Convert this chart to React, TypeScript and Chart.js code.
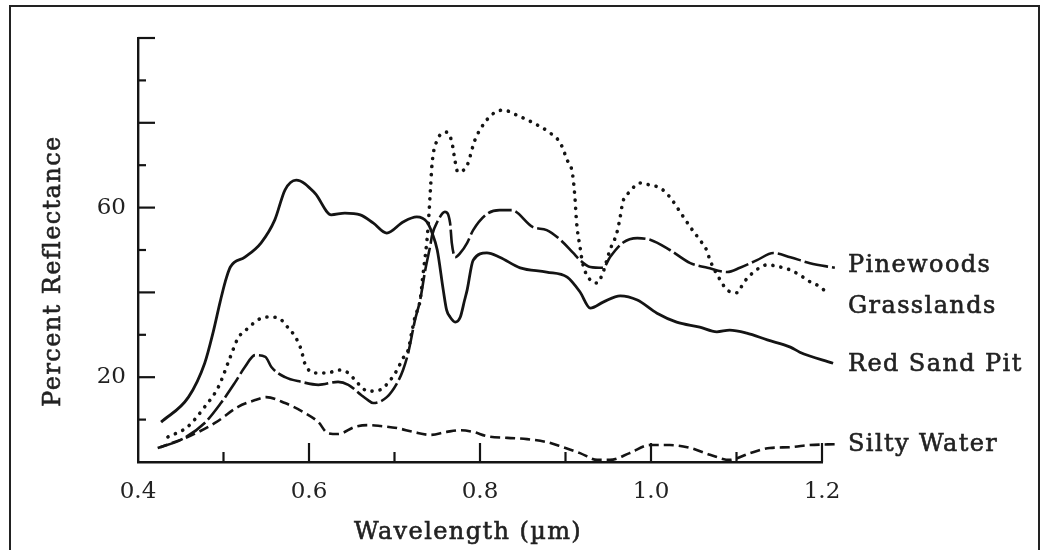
import React, { useEffect, useRef } from 'react';
import { Chart, registerables } from 'chart.js';

Chart.register(...registerables);

// ---- data (wavelength in µm, reflectance in %) ----
const seriesNames = ['Pinewoods', 'Grasslands', 'Red Sand Pit', 'Silty Water'];

const pinewoodsX = [0.426, 0.450, 0.478, 0.497, 0.513, 0.525, 0.537, 0.549, 0.556, 0.572, 0.591, 0.611, 0.634, 0.646, 0.661, 0.669, 0.675, 0.691, 0.703, 0.710, 0.716, 0.724, 0.730, 0.736, 0.742, 0.744, 0.750, 0.759, 0.765, 0.767, 0.771, 0.777, 0.785, 0.792, 0.808, 0.823, 0.837, 0.862, 0.878, 0.894, 0.909, 0.917, 0.929, 0.944, 0.952, 0.967, 0.984, 0.999, 1.022, 1.046, 1.066, 1.089, 1.104, 1.124, 1.143, 1.163, 1.186, 1.215];
const pinewoodsY = [3.5, 5.2, 9.2, 13.9, 18.6, 22.4, 25.2, 24.8, 22.4, 20.0, 18.9, 18.2, 18.9, 18.2, 15.8, 14.6, 13.9, 15.3, 18.6, 21.7, 25.7, 33.5, 38.2, 45.3, 51.2, 53.5, 56.6, 59.0, 56.4, 51.7, 48.3, 49.3, 51.7, 54.7, 58.5, 59.4, 59.4, 55.4, 54.7, 52.4, 49.3, 47.6, 46.0, 45.8, 48.3, 51.7, 52.8, 52.4, 50.0, 46.9, 45.8, 44.8, 45.8, 47.6, 49.3, 48.3, 46.9, 45.8];

const grasslandsX = [0.435, 0.458, 0.478, 0.494, 0.508, 0.517, 0.529, 0.540, 0.552, 0.564, 0.575, 0.584, 0.591, 0.595, 0.607, 0.622, 0.634, 0.646, 0.657, 0.669, 0.683, 0.695, 0.703, 0.710, 0.716, 0.720, 0.724, 0.730, 0.733, 0.739, 0.742, 0.744, 0.750, 0.761, 0.767, 0.771, 0.774, 0.785, 0.794, 0.808, 0.818, 0.827, 0.843, 0.862, 0.882, 0.894, 0.902, 0.908, 0.911, 0.913, 0.917, 0.920, 0.929, 0.937, 0.944, 0.952, 0.960, 0.964, 0.967, 0.975, 0.987, 0.999, 1.011, 1.022, 1.034, 1.046, 1.057, 1.065, 1.069, 1.081, 1.089, 1.101, 1.108, 1.119, 1.136, 1.151, 1.163, 1.174, 1.186, 1.198, 1.206, 1.219];
const grasslandsY = [5.9, 8.3, 13.0, 17.7, 24.8, 29.2, 31.6, 33.5, 34.2, 34.0, 31.8, 29.5, 26.4, 23.3, 21.0, 21.0, 21.7, 21.0, 18.6, 16.7, 17.0, 19.3, 21.7, 24.5, 26.4, 30.4, 34.2, 38.2, 43.6, 54.7, 64.2, 70.5, 75.9, 77.8, 75.5, 70.8, 68.4, 70.0, 75.9, 80.7, 82.5, 83.0, 81.8, 80.0, 77.6, 75.2, 71.2, 68.2, 62.5, 56.4, 50.7, 46.9, 42.9, 42.2, 44.8, 50.0, 54.0, 57.8, 61.3, 63.7, 65.8, 65.3, 64.6, 62.5, 59.0, 55.4, 52.4, 50.0, 47.6, 42.9, 40.6, 39.9, 42.2, 44.6, 46.5, 46.0, 45.3, 44.1, 42.5, 41.3, 39.9, 38.7];

const redSandPitX = [0.427, 0.459, 0.478, 0.488, 0.496, 0.502, 0.508, 0.525, 0.544, 0.560, 0.572, 0.585, 0.607, 0.626, 0.642, 0.660, 0.675, 0.691, 0.710, 0.726, 0.738, 0.744, 0.750, 0.757, 0.761, 0.765, 0.771, 0.777, 0.782, 0.785, 0.792, 0.808, 0.823, 0.847, 0.878, 0.902, 0.917, 0.929, 0.944, 0.964, 0.984, 1.007, 1.030, 1.057, 1.077, 1.092, 1.112, 1.136, 1.163, 1.174, 1.213];
const redSandPitY = [9.4, 15.3, 23.3, 30.7, 37.7, 42.5, 46.0, 48.3, 51.7, 57.1, 64.2, 66.5, 63.4, 58.3, 58.7, 58.3, 56.4, 54.0, 56.6, 57.8, 56.6, 54.0, 50.0, 40.6, 35.8, 34.2, 33.0, 34.2, 38.2, 40.6, 47.6, 49.3, 48.3, 45.8, 44.8, 43.6, 40.1, 36.3, 37.7, 39.2, 38.2, 35.1, 33.0, 31.8, 30.7, 31.1, 30.4, 28.8, 27.1, 25.9, 23.3];

const siltyWaterX = [0.423, 0.458, 0.490, 0.517, 0.537, 0.550, 0.572, 0.595, 0.611, 0.622, 0.634, 0.654, 0.669, 0.683, 0.703, 0.722, 0.742, 0.761, 0.777, 0.792, 0.808, 0.832, 0.855, 0.878, 0.897, 0.917, 0.937, 0.952, 0.975, 0.999, 1.022, 1.046, 1.069, 1.092, 1.116, 1.139, 1.163, 1.186, 1.218];
const siltyWaterY = [3.3, 5.9, 9.2, 13.0, 14.6, 15.3, 13.9, 11.6, 9.4, 6.8, 6.6, 8.3, 8.7, 8.5, 8.0, 7.1, 6.4, 7.1, 7.5, 7.1, 6.1, 5.7, 5.4, 4.7, 3.5, 2.1, 0.5, 0.5, 2.1, 4.0, 4.0, 3.3, 1.7, 0.5, 2.1, 3.3, 3.5, 4.0, 4.2];

const xMin = 0.4;
const xMax = 1.2;
const xStep = 0.1;
const yMin = 0;
const yMax = 100;
const yStep = 10;
const yLabelledTicks = [20, 60];

const INK = '#141414';
const TEXT = '#222222';
const FONT = '"DejaVu Serif", serif';

const toPoints = (xs: number[], ys: number[]) => xs.map((x, i) => ({ x, y: ys[i] }));

const labelOffsets = [-2, 9, 2, 1];

const drawText = (ctx: CanvasRenderingContext2D, s: string, x: number, y: number) => {
  ctx.fillText(s, x, y);
  ctx.strokeText(s, x, y);
};

const decorPlugin = {
  id: 'decor',
  afterDraw(chart: any) {
    const ctx = chart.ctx as CanvasRenderingContext2D;
    const xs = chart.scales.x;
    const ys = chart.scales.y;
    const area = chart.chartArea;
    ctx.save();
    ctx.strokeStyle = INK;
    ctx.lineWidth = 2.2;
    ctx.lineCap = 'butt';
    xs.ticks.forEach((t: any, i: number) => {
      if (i === 0) return;
      const px = xs.getPixelForValue(t.value);
      const len = i % 2 === 0 ? 19 : 10;
      ctx.beginPath();
      ctx.moveTo(px, area.bottom);
      ctx.lineTo(px, area.bottom - len);
      ctx.stroke();
    });
    ys.ticks.forEach((t: any, i: number) => {
      if (i === 0) return;
      const py = ys.getPixelForValue(t.value);
      const len = Math.round(t.value) % 20 === 0 ? 17 : 8;
      ctx.beginPath();
      ctx.moveTo(area.left, py);
      ctx.lineTo(area.left + len, py);
      ctx.stroke();
    });

    ctx.fillStyle = TEXT;
    ctx.strokeStyle = TEXT;
    ctx.lineWidth = 0.6;
    ctx.font = `24px ${FONT}`;
    (ctx as any).letterSpacing = '1.4px';
    ctx.textBaseline = 'middle';
    ctx.textAlign = 'center';
    drawText(ctx, 'Wavelength (µm)', (area.left + area.right) / 2 - 12, area.bottom + 71);
    ctx.save();
    ctx.translate(area.left - 84, (area.top + area.bottom) / 2 + 21);
    ctx.rotate(-Math.PI / 2);
    drawText(ctx, 'Percent Reflectance', 0, 0);
    ctx.restore();

    ctx.textAlign = 'left';
    chart.data.datasets.forEach((ds: any, i: number) => {
      const meta = chart.getDatasetMeta(i);
      const last = meta.data[meta.data.length - 1];
      drawText(ctx, ds.label, area.right + 26, last.y + labelOffsets[i]);
    });
    ctx.restore();
  },
};

export default function App() {
  const ref = useRef<HTMLCanvasElement | null>(null);

  useEffect(() => {
    if (!ref.current) return;
    const common = {
      borderColor: INK,
      pointRadius: 0,
      pointHoverRadius: 0,
      fill: false,
      cubicInterpolationMode: 'monotone' as const,
      clip: false as any,
    };
    const chart = new Chart(ref.current, {
      type: 'line',
      data: {
        datasets: [
          { ...common, label: seriesNames[0], data: toPoints(pinewoodsX, pinewoodsY), borderWidth: 2.6, borderDash: [24, 4] },
          { ...common, label: seriesNames[1], data: toPoints(grasslandsX, grasslandsY), borderWidth: 3.6, borderDash: [0.1, 8], borderCapStyle: 'round' },
          { ...common, label: seriesNames[2], data: toPoints(redSandPitX, redSandPitY), borderWidth: 2.8 },
          { ...common, label: seriesNames[3], data: toPoints(siltyWaterX, siltyWaterY), borderWidth: 2.6, borderDash: [10, 5] },
        ],
      },
      options: {
        responsive: false,
        animation: false,
        events: [],
        layout: { padding: { left: 0, top: 38, right: 222, bottom: 0 } },
        plugins: { legend: { display: false }, tooltip: { enabled: false } },
        scales: {
          x: {
            type: 'linear',
            min: xMin,
            max: xMax,
            grid: { display: true, drawOnChartArea: false, drawTicks: false },
            border: { display: true, color: INK, width: 2.4 },
            ticks: {
              stepSize: xStep,
              padding: 16,
              color: TEXT,
              font: { family: FONT, size: 23 },
              maxRotation: 0,
              autoSkip: false,
              callback: (v: any, i: number) => (i % 2 === 0 ? Number(v).toFixed(1) : ''),
            },
            afterFit: (s: any) => { s.height = 88; },
          },
          y: {
            type: 'linear',
            min: yMin,
            max: yMax,
            grid: { display: true, drawOnChartArea: false, drawTicks: false },
            border: { display: true, color: INK, width: 2.4 },
            ticks: {
              stepSize: yStep,
              padding: 12,
              color: TEXT,
              font: { family: FONT, size: 23 },
              autoSkip: false,
              callback: (v: any) => (yLabelledTicks.includes(Math.round(Number(v))) ? String(Math.round(Number(v))) : ''),
            },
            afterFit: (s: any) => { s.width = 138; },
          },
        },
      },
      plugins: [decorPlugin],
    });
    return () => chart.destroy();
  }, []);

  return (
    <div style={{ position: 'fixed', left: 0, top: 0, width: 1044, height: 550, background: '#fff', overflow: 'hidden' }}>
      <div style={{ position: 'absolute', left: 9, top: 5, width: 1031, height: 600, border: '2px solid #222', boxSizing: 'border-box' }} />
      <canvas ref={ref} width={1044} height={550} style={{ position: 'absolute', left: 0, top: 0 }} />
    </div>
  );
}
